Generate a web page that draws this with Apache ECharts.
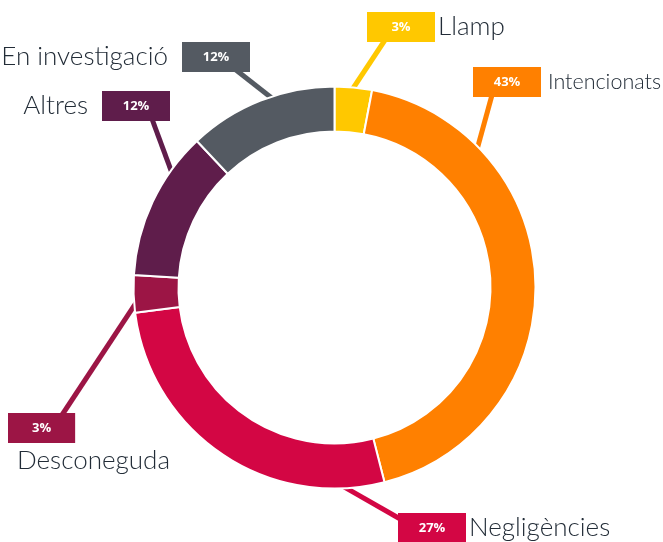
<!DOCTYPE html>
<html lang="ca">
<head>
    <meta charset="utf-8">
    <script src="https://cdn.jsdelivr.net/npm/echarts@6/dist/echarts.min.js"></script>
    <title>Causes</title>
    <style>
        html, body { margin: 0; padding: 0; background: #fff; }
        #main { width: 663px; height: 542px; }
    </style>
</head>
<body>
<div id="main"></div>
<script type="text/javascript">
    // dades
    var categories = ['Llamp', 'Intencionats', 'Negligències', 'Desconeguda', 'Altres', 'En investigació'];
    var values = [3, 43, 27, 3, 12, 12];
    var colors = ['#FFC800', '#FF8000', '#D30644', '#9C1545', '#5F1D4B', '#545A62'];

    // posicio de cada etiqueta (caixa) i punt on toca l'anell
    var CX = 334.5, CY = 287.5, R0 = 156, R1 = 201;
    var labelPos = [
        {x: 367, y: 12, side: 'right', deg: 5, base: [385, 40]},
        {x: 473, y: 67, side: 'right', deg: 46, base: [492, 95]},
        {x: 398, y: 513, side: 'right', deg: 178, base: [402, 520]},
        {x: 8, y: 413, side: 'below', deg: 266, base: [62, 415]},
        {x: 170, y: 91, side: 'left', deg: 305, base: [152, 119]},
        {x: 250, y: 42, side: 'left', deg: 342, base: [236, 70]}
    ];

    var dom = document.getElementById('main');
    var myChart = echarts.init(dom, null, {renderer: 'canvas'});

    var pieData = categories.map(function (name, i) {
        return {name: name, value: values[i], itemStyle: {color: colors[i]}};
    });

    function labelText(params) {
        var p = labelPos[params.dataIndex];
        if (p.side === 'left') return '{nameL|' + params.name + '}{box' + params.dataIndex + '|' + params.value + '%}';
        if (p.side === 'below') return '{boxB' + params.dataIndex + '|' + params.value + '%}\n{nameB|' + params.name + '}';
        if (params.dataIndex === 1) return '{box1|' + params.value + '%}{nameS|' + params.name + '}';
        return '{box' + params.dataIndex + '|' + params.value + '%}{name|' + params.name + '}';
    }

    var nameFont = {fontSize: 26, fontFamily: 'Lato', fontWeight: 300, color: '#222c37'};
    var rich = {
        name: Object.assign({padding: [0, 0, 0, 3]}, nameFont),
        nameS: Object.assign({}, nameFont, {fontSize: 21.5, padding: [0, 0, 0, 7]}),
        nameL: Object.assign({padding: [0, 14, 0, 0]}, nameFont),
        nameB: Object.assign({padding: [4, 0, 0, 9], lineHeight: 32}, nameFont)
    };
    colors.forEach(function (c, i) {
        var boxStyle = {
            backgroundColor: c, color: '#fff', height: 30, lineHeight: 30,
            fontSize: 13, fontWeight: 'bold', fontFamily: 'Open Sans'
        };
        rich['box' + i] = Object.assign({width: 68, align: 'center'}, boxStyle);
        rich['boxB' + i] = Object.assign({align: 'left', padding: [0, 24, 0, 24]}, boxStyle);
    });

    var option = {
        animation: false,
        series: [{
            type: 'pie',
            center: [CX, CY],
            radius: [R0, R1],
            startAngle: 90,
            clockwise: true,
            avoidLabelOverlap: false,
            itemStyle: {borderColor: '#fff', borderWidth: 2},
            label: {
                show: true,
                position: 'outside',
                formatter: labelText,
                rich: rich
            },
            labelLine: {show: true, lineStyle: {width: 5}},
            labelLayout: function (params) {
                var p = labelPos[params.dataIndex];
                var a = p.deg * Math.PI / 180;
                var anchor = [CX + (R1 - 3) * Math.sin(a), CY - (R1 - 3) * Math.cos(a)];
                return {
                    x: p.x,
                    y: p.y,
                    align: p.side === 'left' ? 'right' : 'left',
                    verticalAlign: 'top',
                    labelLinePoints: [anchor, p.base, p.base]
                };
            },
            data: pieData
        }]
    };

    myChart.setOption(option);
</script>
</body>
</html>
